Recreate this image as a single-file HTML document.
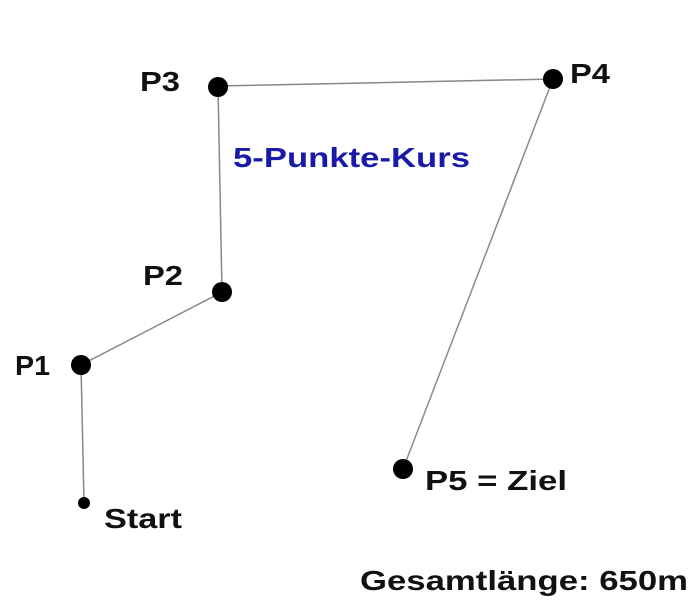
<!DOCTYPE html>
<html><head><meta charset="utf-8"><style>body{margin:0;background:#fff}</style></head><body>
<svg width="700" height="600" xmlns="http://www.w3.org/2000/svg" font-family="Liberation Sans, sans-serif" font-weight="bold">
<rect width="700" height="600" fill="#fff"/>
<polyline points="84,503 81,365 222,292 218,86 553,79 403,469" fill="none" stroke="#888" stroke-width="1.5"/>
<circle cx="84" cy="503" r="6"/>
<circle cx="81" cy="365" r="10"/>
<circle cx="222" cy="292" r="10"/>
<circle cx="218" cy="87" r="10"/>
<circle cx="553" cy="79" r="10"/>
<circle cx="403" cy="469" r="10"/>
<g font-size="28" fill="#111" lengthAdjust="spacingAndGlyphs">
<text x="15" y="375" textLength="35" lengthAdjust="spacingAndGlyphs">P1</text>
<text x="143" y="285" textLength="40" lengthAdjust="spacingAndGlyphs">P2</text>
<text x="140" y="91" textLength="40" lengthAdjust="spacingAndGlyphs">P3</text>
<text x="570" y="83" textLength="40" lengthAdjust="spacingAndGlyphs">P4</text>
<text x="104" y="528" textLength="78" lengthAdjust="spacingAndGlyphs">Start</text>
<text x="425" y="490" textLength="142" lengthAdjust="spacingAndGlyphs">P5 = Ziel</text>
<text x="360" y="590" textLength="328" lengthAdjust="spacingAndGlyphs">Gesamtlänge: 650m</text>
</g>
<text x="233" y="167" font-size="28" fill="#1a1aa8" textLength="237" lengthAdjust="spacingAndGlyphs">5-Punkte-Kurs</text>
</svg>
</body></html>
